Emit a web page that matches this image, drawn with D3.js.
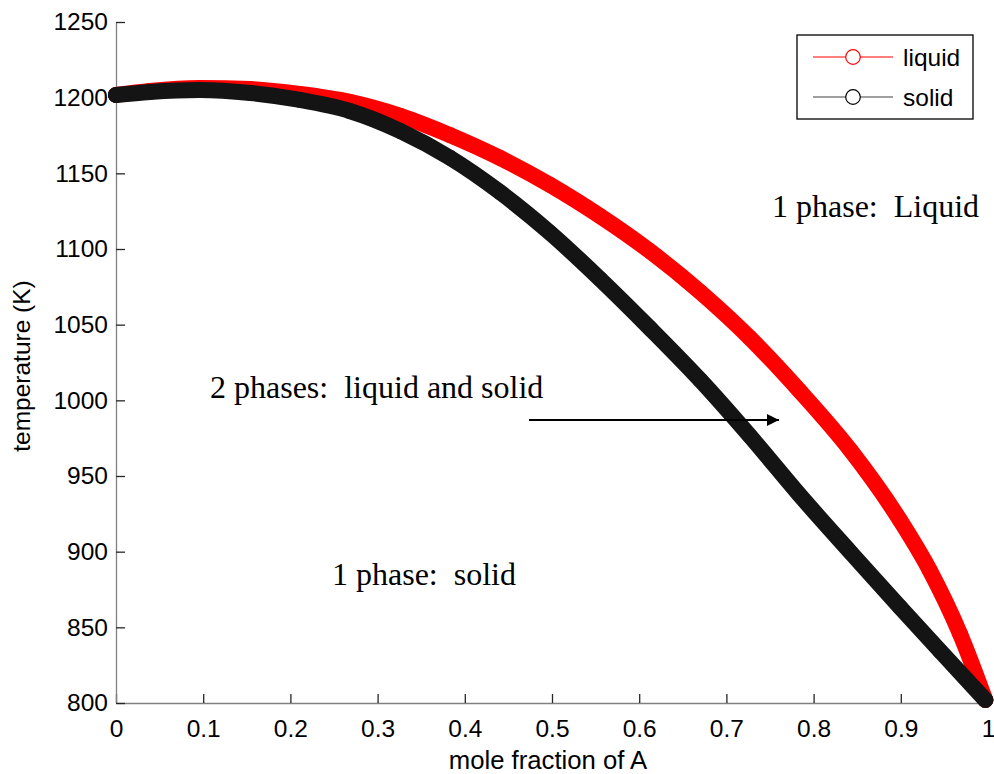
<!DOCTYPE html>
<html>
<head>
<meta charset="utf-8">
<script src="https://cdn.jsdelivr.net/npm/d3@7"></script>
<style>
  body { margin: 0; background: #fff; }
  text { font-family: "Liberation Sans", Arial, sans-serif; }
</style>
</head>
<body>
<div id="chart"></div>
<script>
// phase diagram data
let liquidX = [0, 0.039, 0.096, 0.154, 0.211, 0.268, 0.326, 0.383, 0.44, 0.498, 0.555, 0.612, 0.67, 0.727, 0.784, 0.842, 0.899, 0.933, 0.968, 0.997];
let liquidT = [1201.8, 1204.5, 1206.4, 1205.7, 1202.4, 1197.2, 1188, 1175.3, 1160.3, 1142.3, 1121.8, 1098.7, 1071.6, 1041.2, 1006.2, 967.2, 920.9, 887.9, 845.6, 802];

let solidX = [0, 0.039, 0.096, 0.154, 0.211, 0.268, 0.326, 0.383, 0.44, 0.498, 0.555, 0.612, 0.67, 0.727, 0.784, 0.842, 0.899, 0.945, 0.997];
let solidT = [1201.8, 1203.8, 1205.1, 1203.1, 1198.5, 1191.2, 1178, 1160.3, 1137.7, 1110.6, 1080.2, 1047.8, 1013.4, 976.4, 937.4, 899.8, 863.4, 834.4, 802];

let xTicks = [0, 0.1, 0.2, 0.3, 0.4, 0.5, 0.6, 0.7, 0.8, 0.9, 1];
let yTicks = [800, 850, 900, 950, 1000, 1050, 1100, 1150, 1200, 1250];

let seriesNames = ['liquid', 'solid'];
let seriesColors = ['#ff0000', '#141414'];

// svg dimensions
let svgWidth = 994,
    svgHeight = 774;

let margin = { top: 22, right: 6, bottom: 71, left: 116 };
let chartWidth = svgWidth - margin.left - margin.right;
let chartHeight = svgHeight - margin.top - margin.bottom;

let svg = d3.select('#chart')
    .append('svg')
    .attr('width', svgWidth)
    .attr('height', svgHeight);

let chartGroup = svg.append('g')
    .attr('transform', `translate(${margin.left}, ${margin.top})`);

let xScale = d3.scaleLinear().domain([0, 1]).range([0, chartWidth]);
let yScale = d3.scaleLinear().domain([800, 1250]).range([chartHeight, 0]);

// axes, ticks pointing inward
let bottomAxis = d3.axisBottom(xScale)
    .tickValues(xTicks)
    .tickFormat(d3.format('~g'))
    .tickSizeInner(-9)
    .tickSizeOuter(0)
    .tickPadding(17);

let leftAxis = d3.axisLeft(yScale)
    .tickValues(yTicks)
    .tickFormat(d3.format('d'))
    .tickSizeInner(-9)
    .tickSizeOuter(0)
    .tickPadding(8);

let xAxisG = chartGroup.append('g')
    .attr('transform', `translate(0, ${chartHeight})`)
    .call(bottomAxis);

let yAxisG = chartGroup.append('g')
    .call(leftAxis);

[xAxisG, yAxisG].forEach(g => {
    g.select('.domain').attr('stroke', '#808080').attr('stroke-width', 1.3);
    g.selectAll('.tick line').attr('stroke', '#262626').attr('stroke-width', 1.3);
    g.selectAll('.tick text')
        .attr('fill', '#000')
        .style('font-size', '24.5px')
        .style('font-family', '"Liberation Sans", Arial, sans-serif');
});

// axis labels
svg.append('text')
    .attr('x', 548)
    .attr('y', 769)
    .attr('text-anchor', 'middle')
    .style('font-size', '25.7px')
    .text('mole fraction of A');

svg.append('text')
    .attr('transform', 'translate(30, 366) rotate(-90)')
    .attr('text-anchor', 'middle')
    .style('font-size', '24.5px')
    .text('temperature (K)');

// series: band of overlapping circle markers
let series = [
    { x: liquidX, t: liquidT },
    { x: solidX, t: solidT }
];

let line = d3.line()
    .x(d => xScale(d[0]))
    .y(d => yScale(d[1]))
    .curve(d3.curveMonotoneX);

series.forEach((s, i) => {
    let pts = s.x.map((x, j) => [x, s.t[j]]);
    let g = chartGroup.append('g');
    g.append('path')
        .datum(pts)
        .attr('d', line)
        .attr('fill', 'none')
        .attr('stroke', seriesColors[i])
        .attr('stroke-width', 16)
        .attr('stroke-linecap', 'round')
        .attr('stroke-linejoin', 'round');
    g.selectAll('circle')
        .data(pts)
        .join('circle')
        .attr('cx', d => xScale(d[0]))
        .attr('cy', d => yScale(d[1]))
        .attr('r', 7.5)
        .attr('fill', 'none')
        .attr('stroke', seriesColors[i])
        .attr('stroke-width', 1);
});

// annotations
let notes = [
    { text: '1 phase:  Liquid', x: 772, y: 217 },
    { text: '2 phases:  liquid and solid', x: 210, y: 398 },
    { text: '1 phase:  solid', x: 332, y: 585 }
];
svg.selectAll('.note')
    .data(notes)
    .join('text')
    .attr('class', 'note')
    .attr('x', d => d.x)
    .attr('y', d => d.y)
    .style('font-family', '"Liberation Serif", "Times New Roman", serif')
    .style('font-size', '32px')
    .style('white-space', 'pre')
    .text(d => d.text);

// arrow
svg.append('defs').append('marker')
    .attr('id', 'arrowhead')
    .attr('viewBox', '0 0 10 10')
    .attr('refX', 10)
    .attr('refY', 5)
    .attr('markerWidth', 6)
    .attr('markerHeight', 6)
    .attr('markerUnits', 'strokeWidth')
    .attr('orient', 'auto')
    .append('path')
    .attr('d', 'M0,0 L10,5 L0,10 Z')
    .attr('fill', '#000');

svg.append('line')
    .attr('x1', 529).attr('y1', 420)
    .attr('x2', 779).attr('y2', 420)
    .attr('stroke', '#000')
    .attr('stroke-width', 2)
    .attr('marker-end', 'url(#arrowhead)');

// legend
let legend = svg.append('g').attr('transform', 'translate(797, 35)');
legend.append('rect')
    .attr('width', 176)
    .attr('height', 84)
    .attr('fill', '#fff')
    .attr('stroke', '#000')
    .attr('stroke-width', 1.3);

let legendLine = ['#ff0000', '#404040'];
let legendMarker = ['#ff0000', '#000'];
seriesNames.forEach((name, i) => {
    let row = legend.append('g').attr('transform', `translate(0, ${22 + i * 40})`);
    row.append('line')
        .attr('x1', 16).attr('x2', 96)
        .attr('stroke', legendLine[i])
        .attr('stroke-width', 1.2);
    row.append('circle')
        .attr('cx', 56)
        .attr('r', 7.3)
        .attr('fill', '#fff')
        .attr('stroke', legendMarker[i])
        .attr('stroke-width', 1.2);
    row.append('text')
        .attr('x', 106)
        .attr('y', 9)
        .style('font-size', '24.5px')
        .text(name);
});
</script>
</body>
</html>
